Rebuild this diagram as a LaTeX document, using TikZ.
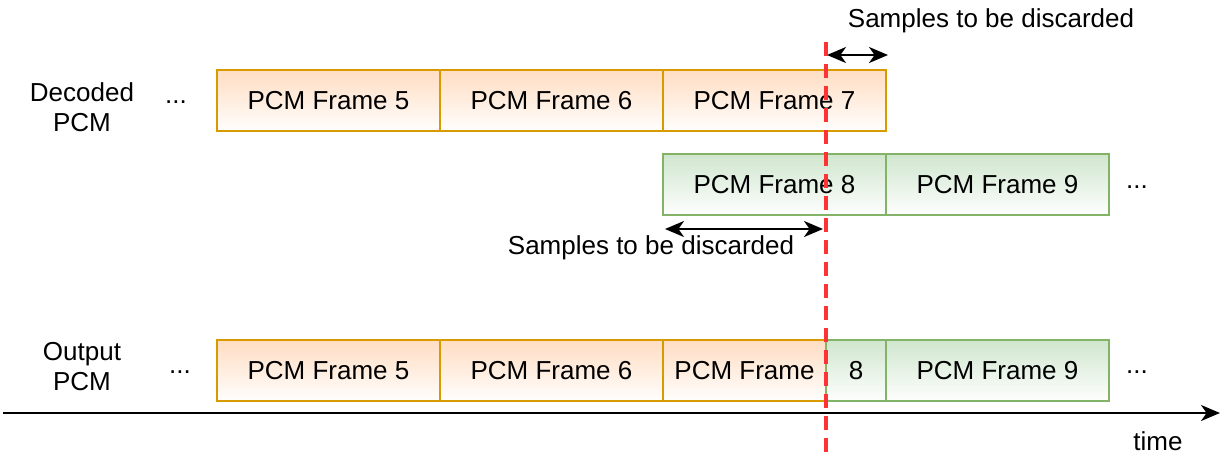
\documentclass[tikz,border=0pt]{standalone}
\usepackage{fontspec}
\setmainfont{Liberation Sans}
\usetikzlibrary{positioning,arrows.meta}

\definecolor{orangeline}{HTML}{D79B00}
\definecolor{orangetop}{HTML}{FFDDC2}
\definecolor{greenline}{HTML}{82B366}
\definecolor{greentop}{HTML}{D0E6CE}
\definecolor{cutred}{HTML}{FF3333}

\begin{document}
\begin{tikzpicture}[x=0.5pt,y=-0.5pt,
  every node/.style={font=\fontsize{13}{15}\selectfont},
  frame/.style={draw, line width=0.7pt, inner sep=0pt, outer sep=0pt,
    minimum height=30.5pt, minimum width=111.5pt},
  orangeframe/.style={frame, draw=orangeline, top color=orangetop, bottom color=white!97!orangetop},
  greenframe/.style={frame, draw=greenline, top color=greentop, bottom color=white!97!greentop},
  bothtips/.style={line width=1.1pt, {Stealth[length=9.5pt,width=8pt,inset=2.8pt]}-{Stealth[length=9.5pt,width=8pt,inset=2.8pt]}},
  endtip/.style={line width=1.1pt, -{Stealth[length=9.5pt,width=8pt,inset=2.8pt]}}]
  \useasboundingbox (0,0) rectangle (1225,456);

  % decoded row
  \node[orangeframe, anchor=north west] (d5) at (217,70) {PCM Frame 5};
  \node[orangeframe, right=0pt of d5] (d6) {PCM Frame 6};
  \node[orangeframe, right=0pt of d6] (d7) {PCM Frame 7};
  \node[greenframe, anchor=north west] (d8) at (663,154) {PCM Frame 8};
  \node[greenframe, right=0pt of d8] (d9) {PCM Frame 9};

  % output row
  \node[orangeframe, anchor=north west] (o5) at (217,340) {PCM Frame 5};
  \node[orangeframe, right=0pt of o5] (o6) {PCM Frame 6};
  \node[orangeframe, right=0pt of o6, minimum width=81.5pt] (o7) {PCM Frame};
  \node[greenframe, right=0pt of o7, minimum width=30pt] (o8) {8};
  \node[greenframe, right=0pt of o8] (o9) {PCM Frame 9};

  % labels
  \node[align=center] (declbl) at (82,107) {Decoded\\PCM};
  \node[align=center] (outlbl) at (82,367) {Output\\PCM};
  \node (decdots) at (176,102) {...};
  \node (gdots) at (1137,187) {...};
  \node (odots1) at (180,372) {...};
  \node (odots2) at (1137,372) {...};

  % discarded samples
  \coordinate (topL) at (827,55);
  \coordinate (topR) at (888,55);
  \draw[bothtips] (topL) -- (topR);
  \node (toptxt) at (991,21) {Samples to be discarded};
  \coordinate (midL) at (665,229);
  \coordinate (midR) at (823,229);
  \draw[bothtips] (midL) -- (midR);
  \node (midtxt) at (651,248) {Samples to be discarded};

  % time axis
  \coordinate (tstart) at (3,413);
  \coordinate (tend) at (1220,413);
  \draw[endtip] (tstart) -- (tend);
  \node (timelbl) at (1158,441) {time};

  % cut
  \coordinate (cutTop) at (826,42);
  \coordinate (cutBot) at (826,456);
  \draw[cutred, line width=2pt, dash pattern=on 7pt off 4pt] (cutTop) -- (cutBot);
\end{tikzpicture}
\end{document}
